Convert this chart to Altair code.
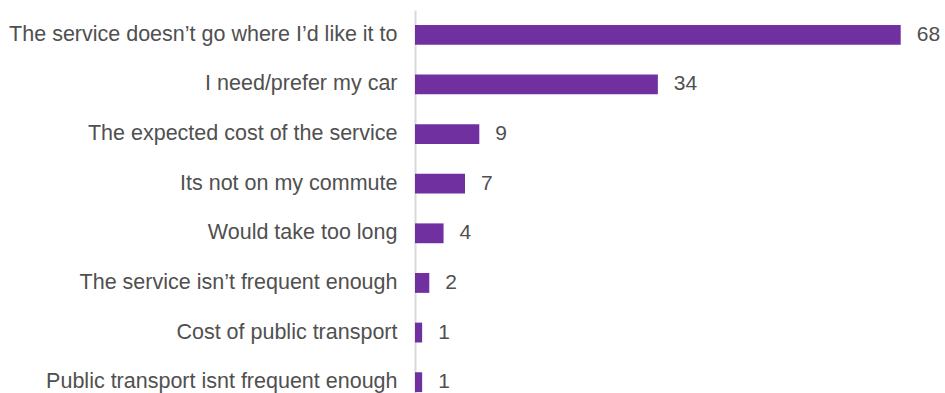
import altair as alt
import pandas as pd

reasons = [
    "The service doesn\u2019t go where I\u2019d like it to",
    "I need/prefer my car",
    "The expected cost of the service",
    "Its not on my commute",
    "Would take too long",
    "The service isn\u2019t frequent enough",
    "Cost of public transport",
    "Public transport isnt frequent enough",
]
counts = [68, 34, 9, 7, 4, 2, 1, 1]

df = pd.DataFrame({"reason": reasons, "count": counts})

FONT = "Liberation Sans"
TEXT_COLOR = "#505050"

y_enc = alt.Y(
    "reason:N",
    sort=reasons,
    scale=alt.Scale(paddingInner=0.6, paddingOuter=0.3),
    axis=alt.Axis(
        title=None,
        ticks=False,
        labelPadding=18,
        labelFont=FONT,
        labelFontSize=21.5,
        labelColor=TEXT_COLOR,
        labelLimit=0,
        domainColor="#d9d9d9",
        domainWidth=2,
    ),
)
x_enc = alt.X("count:Q", scale=alt.Scale(domain=[0, 70]), axis=None)

bars = alt.Chart(df).mark_bar(color="#7030a0").encode(x=x_enc, y=y_enc)

labels = alt.Chart(df).mark_text(
    align="left", baseline="middle", dx=16, font=FONT, fontSize=21, color=TEXT_COLOR
).encode(x=x_enc, y=y_enc, text="count:Q")

chart = (
    alt.layer(bars, labels)
    .properties(
        width=500,
        height=397,
        autosize=alt.AutoSizeParams(type="none"),
        padding={"left": 415, "top": 10, "right": 30, "bottom": 0},
    )
    .configure_view(stroke=None)
)

chart.save("out.html", embed_options={"renderer": "svg", "actions": False})
